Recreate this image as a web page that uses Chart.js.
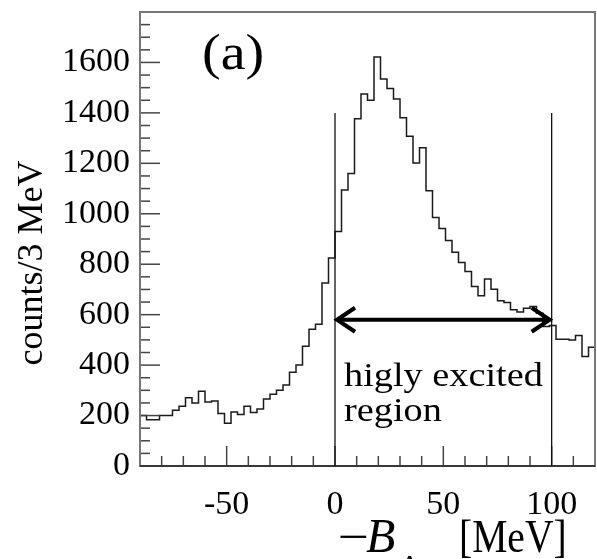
<!DOCTYPE html>
<html>
<head>
<meta charset="utf-8">
<script src="https://cdn.jsdelivr.net/npm/chart.js@4/dist/chart.umd.min.js"></script>
<style>
  html, body { margin: 0; padding: 0; background: #fff; }
  #c { display: block; }
</style>
</head>
<body>
<canvas id="c" width="597" height="559"></canvas>
<script>
// histogram, 3 MeV bins from -90 to 120 MeV
const binStart = -90;
const binWidth = 3;
const counts = [
  // -90 .. 0
  200, 183, 183, 200, 200, 221, 237, 271, 250, 296,
  254, 258, 208, 169, 214, 204, 237, 212, 226, 266,
  284, 300, 321, 372, 400, 475, 542, 562, 726, 825,
  // 0 .. 120
  930, 1094, 1160, 1377, 1475, 1450, 1622, 1534, 1497, 1455,
  1381, 1307, 1201, 1262, 1091, 985, 942, 894, 847, 807,
  771, 712, 675, 741, 701, 655, 648, 619, 611, 625,
  632, 606, 553, 557, 503, 503, 500, 517, 434, 471
];
const xTicks = [-50, 0, 50, 100];
const yTicks = [0, 200, 400, 600, 800, 1000, 1200, 1400, 1600];
const regionEdges = [0, 100];   // "higly excited region" limits
const regionLineTop = 1400;
const arrowLevel = 580;

// step points at bin left edges, last one closes the final bin
const points = counts.map((c, i) => ({ x: binStart + i * binWidth, y: c }));
points.push({ x: binStart + counts.length * binWidth, y: counts[counts.length - 1] });

const serif = '"Liberation Serif", "DejaVu Serif", serif';

function stretchText(ctx, str, x, y, sx) {
  ctx.save();
  ctx.translate(x, y);
  ctx.scale(sx, 1);
  ctx.fillText(str, 0, 0);
  ctx.restore();
}

function line(ctx, x1, y1, x2, y2) {
  ctx.beginPath();
  ctx.moveTo(x1, y1);
  ctx.lineTo(x2, y2);
  ctx.stroke();
}

// fixed axis boxes so the frame lands where it is in the picture
function fixBox(s, size) {
  if (s.isHorizontal()) s.height = size; else s.width = size;
  s.paddingLeft = s.paddingRight = s.paddingTop = s.paddingBottom = 0;
}

// frame, inward ticks, region markers and the texts
const decor = {
  id: 'decor',
  afterDatasetsDraw(chart) {
    const { ctx, chartArea: a, scales: { x, y } } = chart;
    ctx.save();

    // ticks pointing into the frame
    ctx.strokeStyle = '#444';
    ctx.lineWidth = 1.5;
    for (let v = 50; v < y.max; v += 50) {
      const py = y.getPixelForValue(v);
      line(ctx, a.left, py, a.left + (v % 200 === 0 ? 20 : 10), py);
    }
    for (let v = -80; v < x.max; v += 10) {
      const px = x.getPixelForValue(v);
      line(ctx, px, a.bottom, px, a.bottom - (v % 50 === 0 ? 20 : 10));
    }

    // frame
    ctx.strokeStyle = '#777';
    ctx.lineWidth = 2;
    ctx.strokeRect(a.left, a.top, a.right - a.left, a.bottom - a.top);
    ctx.strokeStyle = '#222';
    ctx.lineWidth = 1.5;
    line(ctx, a.left, a.bottom, a.right, a.bottom);

    // region limits
    ctx.strokeStyle = '#111';
    ctx.lineWidth = 1.3;
    regionEdges.forEach(v => {
      const px = x.getPixelForValue(v);
      line(ctx, px, y.getPixelForValue(0), px, y.getPixelForValue(regionLineTop));
    });

    // double arrow
    const x0 = x.getPixelForValue(regionEdges[0]);
    const x1 = x.getPixelForValue(regionEdges[1]);
    const ay = y.getPixelForValue(arrowLevel);
    ctx.strokeStyle = '#000';
    ctx.lineWidth = 4;
    ctx.lineCap = 'butt';
    line(ctx, x0 + 2, ay, x1 - 2, ay);
    ctx.beginPath();
    ctx.moveTo(x0 + 20, ay - 12); ctx.lineTo(x0 + 2, ay); ctx.lineTo(x0 + 20, ay + 12);
    ctx.moveTo(x1 - 20, ay - 12); ctx.lineTo(x1 - 2, ay); ctx.lineTo(x1 - 20, ay + 12);
    ctx.stroke();

    // texts
    ctx.fillStyle = '#000';
    ctx.textAlign = 'left';
    ctx.textBaseline = 'alphabetic';
    ctx.font = '51px ' + serif;
    stretchText(ctx, '(a)', 202, 69, 1.1);

    ctx.font = '33px ' + serif;
    stretchText(ctx, 'higly excited', 344, 385.5, 1.16);
    stretchText(ctx, 'region', 344, 420.5, 1.16);

    // y title
    ctx.save();
    ctx.translate(42, 263);
    ctx.rotate(-Math.PI / 2);
    ctx.textAlign = 'center';
    ctx.font = '36px ' + serif;
    ctx.fillText('counts/3 MeV', 0, 0);
    ctx.restore();

    // x title: −B_Λ [MeV]
    ctx.font = '46px ' + serif;
    stretchText(ctx, '\u2212', 338, 552, 1.2);
    ctx.font = 'italic 48px ' + serif;
    ctx.fillText('B', 366, 552);
    ctx.font = '30px ' + serif;
    ctx.fillText('\u039B', 399, 575);
    ctx.font = '46px ' + serif;
    stretchText(ctx, '[MeV]', 459, 552, 0.86);

    ctx.restore();
  }
};

new Chart(document.getElementById('c'), {
  type: 'line',
  data: {
    datasets: [{
      data: points,
      stepped: true,
      borderColor: '#1a1a1a',
      borderWidth: 1.5,
      pointRadius: 0,
      fill: false
    }]
  },
  options: {
    responsive: false,
    animation: false,
    devicePixelRatio: 1,
    layout: { padding: { top: 12, right: 2, left: 0, bottom: 0 } },
    plugins: { legend: { display: false }, tooltip: { enabled: false } },
    scales: {
      x: {
        type: 'linear',
        min: binStart,
        max: binStart + counts.length * binWidth,
        grid: { display: false, drawTicks: false },
        border: { display: false },
        afterBuildTicks: s => { s.ticks = xTicks.map(v => ({ value: v })); },
        afterFit: s => fixBox(s, 93),
        ticks: {
          color: '#000',
          padding: 22,
          maxRotation: 0,
          callback: v => String(v),
          font: { family: serif, size: 34, lineHeight: 1 }
        }
      },
      y: {
        min: 0,
        max: 1800,
        grid: { display: false, drawTicks: false },
        border: { display: false },
        afterBuildTicks: s => { s.ticks = yTicks.map(v => ({ value: v })); },
        afterFit: s => fixBox(s, 140),
        ticks: {
          color: '#000',
          padding: 10,
          callback: v => String(v),
          font: { family: serif, size: 34, lineHeight: 1 }
        }
      }
    }
  },
  plugins: [decor]
});
</script>
</body>
</html>
